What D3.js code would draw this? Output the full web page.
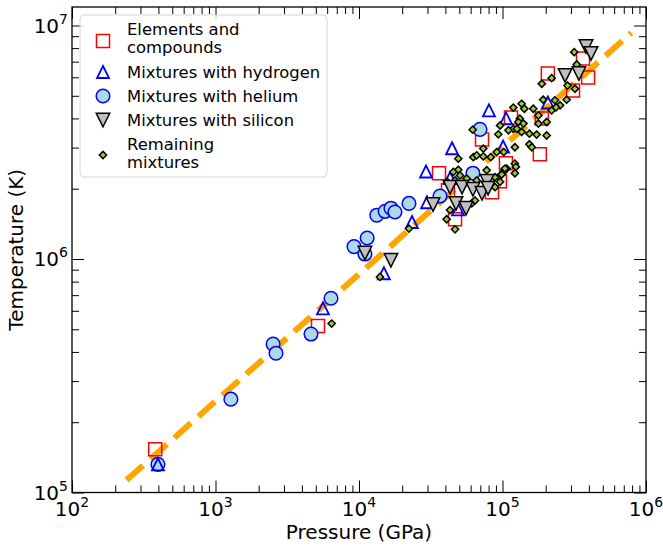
<!DOCTYPE html>
<html>
<head>
<meta charset="utf-8">
<script src="https://cdn.jsdelivr.net/npm/d3@7"></script>
<style>
body { margin: 0; background: #fff; }
svg { font-family: "DejaVu Sans", sans-serif; }
</style>
</head>
<body>
<svg id="chart" width="663" height="548"></svg>
<script>
// Elements and compounds (P in GPa, T in K)
var elemP = [380, 5180, 36100, 72000, 114600, 105700, 46700, 84500, 96000, 41700, 207000, 364000, 395000, 310000, 188000, 182000];
var elemT = [1.53e5, 5.16e5, 2.33e6, 3.25e6, 4.04e6, 2.57e6, 1.48e6, 1.93e6, 2.15e6, 1.97e6, 6.23e6, 7.22e6, 5.99e6, 5.27e6, 4.0e6, 2.81e6];

// Mixtures with hydrogen
var hydP = [397, 5610, 14900, 23400, 29300, 29800, 44500, 80500, 106000, 101000, 207000, 43100, 49000];
var hydT = [1.32e5, 6.15e5, 8.69e5, 1.44e6, 2.37e6, 1.75e6, 2.98e6, 4.33e6, 4.0e6, 3.03e6, 4.68e6, 2.22e6, 1.63e6];

// Mixtures with helium
var heP = [397, 1280, 2520, 2640, 4630, 6380, 9230, 11400, 11000, 13300, 15200, 16700, 17800, 22300, 36700, 62200, 69700];
var heT = [1.32e5, 2.51e5, 4.32e5, 3.95e5, 4.77e5, 6.79e5, 1.13e6, 1.23e6, 1.05e6, 1.54e6, 1.60e6, 1.65e6, 1.59e6, 1.73e6, 1.86e6, 2.33e6, 3.59e6];

// Mixtures with silicon
var siP = [11000, 16700, 32800, 43100, 52200, 47400, 55700, 62200, 72000, 78000, 79300, 273000, 341000, 382000, 414000];
var siT = [1.06e6, 9.88e5, 1.71e6, 2.03e6, 2.03e6, 1.73e6, 1.65e6, 1.99e6, 1.91e6, 2.15e6, 2.01e6, 6.11e6, 6.23e6, 8.13e6, 7.59e6];

// Remaining mixtures
var restP = [6450, 14000, 22300, 40800, 46700, 43100, 61000, 64300, 49200, 62600, 66100, 73500, 82800, 91200, 102000, 73500, 122000, 154000, 160000,
  49200, 45400, 50600, 41200, 46700, 56300, 66100, 77600, 93500, 101300, 107000, 122000, 124000, 122000, 104000, 98700, 88700, 96200, 88700,
  316000, 329000, 188000, 220000, 284000, 320000, 192000, 232000, 252000, 280000, 220000, 236000, 136000, 142000, 119000, 164000, 178000,
  132000, 129000, 140000, 119000, 110000, 126000, 136000, 154000, 173000, 203000, 178000, 203000, 96200, 93500, 62000];
var restT = [5.29e5, 8.38e5, 1.35e6, 1.48e6, 1.34e6, 1.62e6, 1.73e6, 1.78e6, 2.69e6, 2.73e6, 2.78e6, 2.75e6, 2.73e6, 2.87e6, 2.87e6, 2.97e6, 3.01e6, 3.10e6, 3.01e6,
  2.41e6, 2.36e6, 2.28e6, 2.14e6, 2.17e6, 2.21e6, 2.17e6, 2.40e6, 2.24e6, 2.36e6, 2.44e6, 2.56e6, 2.48e6, 2.33e6, 2.44e6, 2.30e6, 2.24e6, 2.14e6, 2.03e6,
  7.69e6, 6.81e6, 5.63e6, 5.95e6, 5.53e6, 5.36e6, 4.81e6, 4.78e6, 4.55e6, 4.81e6, 4.33e6, 4.46e6, 4.62e6, 4.40e6, 4.45e6, 4.40e6, 4.12e6,
  3.99e6, 3.86e6, 3.80e6, 3.61e6, 3.56e6, 3.61e6, 3.50e6, 3.44e6, 3.41e6, 3.38e6, 3.80e6, 3.86e6, 3.73e6, 3.42e6, 3.58e6];

// fitted power law, end points of the dashed line
var fitP = [240, 790000];
var fitT = [1.13e5, 9.3e6];

var xTickVals = [1e2, 1e3, 1e4, 1e5, 1e6];
var xTickExp = ["2", "3", "4", "5", "6"];
var yTickVals = [1e5, 1e6, 1e7];
var yTickExp = ["5", "6", "7"];

var legendLabels = [["Elements and", "compounds"], ["Mixtures with hydrogen"], ["Mixtures with helium"], ["Mixtures with silicon"], ["Remaining", "mixtures"]];

var plotL = 72, plotR = 646, plotT = 7, plotB = 492.5;

var svg = d3.select("#chart");

var x = d3.scaleLog().domain([1e2, 1e6]).range([plotL, plotR]);
var y = d3.scaleLog().domain([1e5, 1.2e7]).range([plotB, plotT]);

function zip(a, b){
  return a.map(function(v, i){ return [v, b[i]]; });
}

// marker paths
function square(s){ var h = s / 2; return "M" + (-h) + "," + (-h) + "H" + h + "V" + h + "H" + (-h) + "Z"; }
function triUp(s){ var h = s / 2; return "M0," + (-h) + "L" + h + "," + h + "L" + (-h) + "," + h + "Z"; }
function triDown(s){ var h = s / 2; return "M0," + h + "L" + h + "," + (-h) + "L" + (-h) + "," + (-h) + "Z"; }
function diamond(r){ return "M0," + (-r) + "L" + r + ",0L0," + r + "L" + (-r) + ",0Z"; }
function circle(r){ return "M" + r + ",0A" + r + "," + r + " 0 1,1 " + (-r) + ",0A" + r + "," + r + " 0 1,1 " + r + ",0Z"; }

var styles = [
  {d: square(13), fill: "none", stroke: "#ff0000", sw: 1.5},
  {d: triUp(12), fill: "none", stroke: "#0000ff", sw: 1.8},
  {d: circle(6.8), fill: "#add8e6", stroke: "#0000ff", sw: 1.5},
  {d: triDown(13.5), fill: "#bfbfbf", stroke: "#000", sw: 1.5},
  {d: diamond(3.6), fill: "#9acd32", stroke: "#000", sw: 1.5}
];

// minor ticks
var xMinor = [];
for (var e = 2; e < 6; e++){
  for (var k = 2; k < 10; k++){ xMinor.push(k * Math.pow(10, e)); }
}
var yMinor = [];
for (var e2 = 5; e2 < 7; e2++){
  for (var k2 = 2; k2 < 10; k2++){ yMinor.push(k2 * Math.pow(10, e2)); }
}

function drawAxis(axis, transform){
  var g = svg.append("g").attr("transform", transform).call(axis);
  g.select(".domain").remove();
  g.selectAll("line").attr("stroke", "#000").attr("stroke-width", 1);
  g.selectAll("text").remove();
}

drawAxis(d3.axisBottom(x).tickValues(xTickVals).tickSize(-12), "translate(0," + plotB + ")");
drawAxis(d3.axisBottom(x).tickValues(xMinor).tickSize(-7), "translate(0," + plotB + ")");
drawAxis(d3.axisTop(x).tickValues(xTickVals).tickSize(-12), "translate(0," + plotT + ")");
drawAxis(d3.axisTop(x).tickValues(xMinor).tickSize(-7), "translate(0," + plotT + ")");
drawAxis(d3.axisLeft(y).tickValues(yTickVals).tickSize(-12), "translate(" + plotL + ",0)");
drawAxis(d3.axisLeft(y).tickValues(yMinor).tickSize(-7), "translate(" + plotL + ",0)");
drawAxis(d3.axisRight(y).tickValues(yTickVals).tickSize(-12), "translate(" + plotR + ",0)");
drawAxis(d3.axisRight(y).tickValues(yMinor).tickSize(-7), "translate(" + plotR + ",0)");

// tick labels 10^n
var xl = svg.append("g").selectAll("text")
  .data(xTickVals)
  .enter()
  .append("text")
    .attr("x", function(d){ return x(d); })
    .attr("y", 516)
    .attr("text-anchor", "middle")
    .attr("font-size", 20)
    .text("10");
xl.append("tspan").attr("dy", -9).attr("font-size", 14).text(function(d, i){ return xTickExp[i]; });

var yl = svg.append("g").selectAll("text")
  .data(yTickVals)
  .enter()
  .append("text")
    .attr("x", 68)
    .attr("y", function(d){ return y(d) + 7.5; })
    .attr("text-anchor", "end")
    .attr("font-size", 20)
    .text("10");
yl.append("tspan").attr("dy", -9).attr("font-size", 14).text(function(d, i){ return yTickExp[i]; });

// axis titles
svg.append("text")
  .attr("x", (plotL + plotR) / 2)
  .attr("y", 539)
  .attr("text-anchor", "middle")
  .attr("font-size", 20)
  .text("Pressure (GPa)");

svg.append("text")
  .attr("transform", "translate(23," + ((plotT + plotB) / 2) + ") rotate(-90)")
  .attr("text-anchor", "middle")
  .attr("font-size", 20)
  .text("Temperature (K)");

// fit line
svg.append("path")
  .datum(zip(fitP, fitT))
  .attr("d", d3.line().x(function(d){ return x(d[0]); }).y(function(d){ return y(d[1]); }))
  .attr("fill", "none")
  .attr("stroke", "#ffa500")
  .attr("stroke-width", 6)
  .attr("stroke-dasharray", "22,10");

// scatter series (drawing order)
var series = [
  {data: zip(elemP, elemT), st: styles[0]},
  {data: zip(heP, heT), st: styles[2]},
  {data: zip(hydP, hydT), st: styles[1]},
  {data: zip(restP, restT), st: styles[4]},
  {data: zip(siP, siT), st: styles[3]}
];

series.forEach(function(s){
  svg.append("g").selectAll("path")
    .data(s.data)
    .enter()
    .append("path")
      .attr("d", s.st.d)
      .attr("transform", function(d){ return "translate(" + x(d[0]) + "," + y(d[1]) + ")"; })
      .attr("fill", s.st.fill)
      .attr("stroke", s.st.stroke)
      .attr("stroke-width", s.st.sw);
});

// frame
svg.append("rect")
  .attr("x", plotL).attr("y", plotT)
  .attr("width", plotR - plotL).attr("height", plotB - plotT)
  .attr("fill", "none")
  .attr("stroke", "#000")
  .attr("stroke-width", 1.3);

// legend
var leg = svg.append("g");
leg.append("rect")
  .attr("x", 80).attr("y", 15)
  .attr("width", 247).attr("height", 162)
  .attr("rx", 4)
  .attr("fill", "#fff").attr("fill-opacity", 0.8)
  .attr("stroke", "#d6d6d6");

var legMarkY = [41, 72, 96, 120, 155];
var legTextY = [[35, 53], [77.7], [101.7], [125.7], [150, 168.3]];

legendLabels.forEach(function(lines, i){
  var st = styles[i];
  leg.append("path")
    .attr("d", st.d)
    .attr("transform", "translate(103," + legMarkY[i] + ")")
    .attr("fill", st.fill)
    .attr("stroke", st.stroke)
    .attr("stroke-width", st.sw);
  lines.forEach(function(t, j){
    leg.append("text")
      .attr("x", 127)
      .attr("y", legTextY[i][j])
      .attr("font-size", 16.4)
      .text(t);
  });
});
</script>
</body>
</html>
